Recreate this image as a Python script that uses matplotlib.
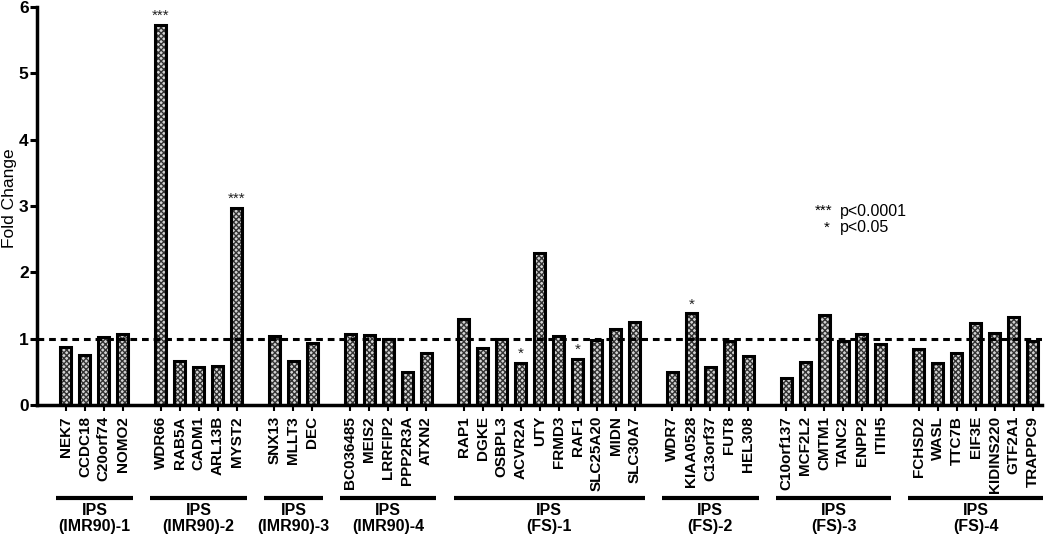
import matplotlib
matplotlib.use("Agg")
import matplotlib.pyplot as plt

plt.rcParams['font.family'] = ['Liberation Sans', 'DejaVu Sans']

groups = ["IPS\n(IMR90)-1", "IPS\n(IMR90)-2", "IPS\n(IMR90)-3", "IPS\n(IMR90)-4",
          "IPS\n(FS)-1", "IPS\n(FS)-2", "IPS\n(FS)-3", "IPS\n(FS)-4"]
genes = [
    ["NEK7", "CCDC18", "C20orf74", "NOMO2"],
    ["WDR66", "RAB5A", "CADM1", "ARL13B", "MYST2"],
    ["SNX13", "MLLT3", "DEC"],
    ["BC036485", "MEIS2", "LRRFIP2", "PPP2R3A", "ATXN2"],
    ["RAP1", "DGKE", "OSBPL3", "ACVR2A", "UTY", "FRMD3", "RAF1", "SLC25A20", "MIDN", "SLC30A7"],
    ["WDR7", "KIAA0528", "C13orf37", "FUT8", "HEL308"],
    ["C10orf137", "MCF2L2", "CMTM1", "TANC2", "ENPP2", "ITIH5"],
    ["FCHSD2", "WASL", "TTC7B", "EIF3E", "KIDINS220", "GTF2A1", "TRAPPC9"],
]
values = [
    [0.88, 0.75, 1.02, 1.07],
    [5.73, 0.66, 0.57, 0.59, 2.97],
    [1.04, 0.66, 0.93],
    [1.07, 1.05, 0.99, 0.50, 0.78],
    [1.30, 0.86, 0.99, 0.63, 2.29, 1.04, 0.69, 0.98, 1.15, 1.25],
    [0.50, 1.38, 0.57, 0.96, 0.74],
    [0.41, 0.65, 1.35, 0.96, 1.07, 0.92],
    [0.85, 0.63, 0.78, 1.24, 1.09, 1.32, 0.96],
]
significance = {"WDR66": "***", "MYST2": "***", "ACVR2A": "*", "RAF1": "*", "KIAA0528": "*"}

fig = plt.figure(figsize=(10.5, 5.38), dpi=100)
ax = fig.add_axes([0.0352, 0.2472, 0.9572, 0.7398])

xs, labels, vals, spans = [], [], [], []
pos = 0
for g, (gl, vl) in enumerate(zip(genes, values)):
    start = pos
    for name, v in zip(gl, vl):
        xs.append(pos); labels.append(name); vals.append(v)
        pos += 1
    spans.append((start, pos - 1))
    pos += 1

w = 0.58
ax.bar(xs, vals, width=w, facecolor='#d4d4d4', edgecolor='#333333', linewidth=0,
       hatch='xxxxxx', zorder=2)
ax.bar(xs, vals, width=w, facecolor='none', edgecolor='black', linewidth=2.2, zorder=3)

ax.axhline(1.0, color='black', linestyle=(0, (2.2, 1.6)), linewidth=2.2, zorder=4)

for x, name, v in zip(xs, labels, vals):
    if name in significance:
        ax.text(x, v + 0.03, significance[name], ha='center', va='bottom',
                fontsize=11, color='#222222')

ax.set_xlim(-1.53, 51.5)
ax.set_ylim(0, 6)
ax.set_yticks(range(0, 7))
ax.set_xticks(xs)
ax.set_xticklabels(labels, rotation=90, fontsize=11, fontweight='bold')
for lab in ax.get_yticklabels():
    lab.set_fontweight('bold')
    lab.set_fontsize(12.5)
ax.tick_params(axis='y', width=2.2, length=5, pad=1)
ax.tick_params(axis='x', width=1.5, length=4, pad=4)
for s in ['top', 'right']:
    ax.spines[s].set_visible(False)
for s in ['left', 'bottom']:
    ax.spines[s].set_linewidth(2.5)

ax.set_ylabel("Fold Change", fontsize=12.5)
ax.yaxis.set_label_coords(-0.020, 0.52)

for (a, b), gname in zip(spans, groups):
    ax.plot([a - 0.55, b + 0.55], [-1.40, -1.40], color='black', linewidth=3,
            clip_on=False, solid_capstyle='butt')
    ax.text((a + b) / 2, -1.71, gname, ha='center', va='center', fontsize=11.5,
            fontweight='bold', linespacing=1.15, clip_on=False)

ax.text(0.774, 0.487, "***", transform=ax.transAxes, fontsize=11, ha='left', va='center')
ax.text(0.799, 0.487, "p<0.0001", transform=ax.transAxes, fontsize=11.5, ha='left', va='center')
ax.text(0.783, 0.445, "*", transform=ax.transAxes, fontsize=11, ha='left', va='center')
ax.text(0.799, 0.445, "p<0.05", transform=ax.transAxes, fontsize=11.5, ha='left', va='center')

fig.savefig("out.png", dpi=100)
